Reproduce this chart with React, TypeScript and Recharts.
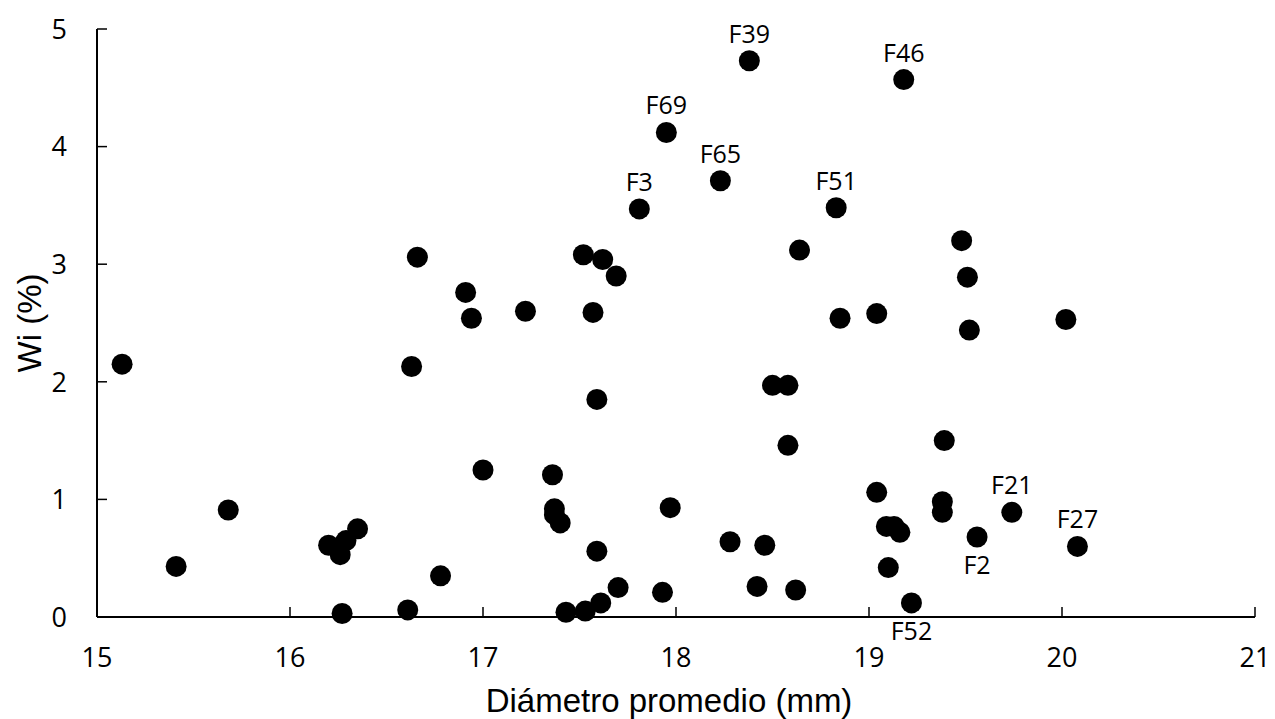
import React from 'react';
import { ScatterChart, Scatter, XAxis, YAxis } from 'recharts';

// Diámetro promedio (mm) vs Wi (%) per sample
const diameters = [
  15.13, 15.41, 15.68, 16.2, 16.26, 16.27, 16.29, 16.35, 16.61, 16.63, 16.66, 16.78,
  16.91, 16.94, 17.0, 17.22, 17.36, 17.37, 17.37, 17.4, 17.43, 17.52, 17.53, 17.57,
  17.59, 17.59, 17.61, 17.62, 17.69, 17.7, 17.81, 17.93, 17.95, 17.97, 18.23, 18.28,
  18.38, 18.42, 18.46, 18.5, 18.58, 18.58, 18.62, 18.64, 18.83, 18.85, 19.04, 19.04,
  19.09, 19.1, 19.13, 19.16, 19.18, 19.22, 19.38, 19.38, 19.39, 19.48, 19.51, 19.52,
  19.56, 19.74, 20.02, 20.08,
];
const wiValues = [
  2.15, 0.43, 0.91, 0.61, 0.53, 0.03, 0.65, 0.75, 0.06, 2.13, 3.06, 0.35,
  2.76, 2.54, 1.25, 2.6, 1.21, 0.92, 0.87, 0.8, 0.04, 3.08, 0.05, 2.59,
  1.85, 0.56, 0.12, 3.04, 2.9, 0.25, 3.47, 0.21, 4.12, 0.93, 3.71, 0.64,
  4.73, 0.26, 0.61, 1.97, 1.97, 1.46, 0.23, 3.12, 3.48, 2.54, 2.58, 1.06,
  0.77, 0.42, 0.77, 0.72, 4.57, 0.12, 0.98, 0.89, 1.5, 3.2, 2.89, 2.44,
  0.68, 0.89, 2.53, 0.6,
];
// point names shown on the chart ('' = unlabelled)
const pointNames = [
  '', '', '', '', '', '', '', '', '', '', '', '',
  '', '', '', '', '', '', '', '', '', '', '', '',
  '', '', '', '', '', '', 'F3', '', 'F69', '', 'F65', '',
  'F39', '', '', '', '', '', '', '', 'F51', '', '', '',
  '', '', '', '', 'F46', 'F52', '', '', '', '', '', '',
  'F2', 'F21', '', 'F27',
];
const namesBelow = ['F2', 'F52'];

const xTicks = [15, 16, 17, 18, 19, 20, 21];
const yTicks = [0, 1, 2, 3, 4, 5];

const data = diameters.map((x, i) => ({ x, y: wiValues[i], name: pointNames[i] }));

const FONT = 'Open Sans';

const renderXTick = (props: any) => {
  const { x, y, payload } = props;
  return (
    <text x={x} y={y} dy="0.72em" textAnchor="middle" fontSize={27} fontFamily={FONT} fill="#000">
      {payload.value}
    </text>
  );
};

const renderYTick = (props: any) => {
  const { x, y, payload } = props;
  return (
    <text x={x} y={y} dy="0.36em" textAnchor="end" fontSize={27} fontFamily={FONT} fill="#000">
      {payload.value}
    </text>
  );
};

const renderPoint = (props: any) => {
  const { cx, cy, payload } = props;
  const name = payload?.name;
  const below = namesBelow.includes(name);
  return (
    <g>
      <circle cx={cx} cy={cy} r={10.5} fill="#000" />
      {name ? (
        <text
          x={cx}
          y={below ? cy + 37 : cy - 18}
          textAnchor="middle"
          fontSize={25}
          fontFamily={FONT}
          fill="#000"
        >
          {name}
        </text>
      ) : null}
    </g>
  );
};

const renderXTitle = (props: any) => {
  const vb = props.viewBox || { x: 97, y: 617, width: 1158, height: 60 };
  return (
    <text
      x={vb.x + vb.width / 2 - 7}
      y={vb.y + vb.height + 35}
      textAnchor="middle"
      fontSize={33}
      fontFamily="Liberation Sans"
      fill="#000"
    >
      Diámetro promedio (mm)
    </text>
  );
};

const renderYTitle = (props: any) => {
  const vb = props.viewBox || { x: 37, y: 29, width: 60, height: 588 };
  const tx = vb.x + 4;
  const ty = vb.y + vb.height / 2;
  return (
    <text
      x={tx}
      y={ty}
      transform={`rotate(-90 ${tx} ${ty})`}
      textAnchor="middle"
      fontSize={33}
      fontFamily="Liberation Sans"
      fill="#000"
    >
      Wi (%)
    </text>
  );
};

export default function App() {
  return (
    <div style={{ position: 'absolute', left: 0, top: 0, width: 1275, height: 719, background: '#fff' }}>
      <ScatterChart width={1275} height={719} margin={{ top: 29, right: 20, bottom: 42, left: 37 }}>
        <XAxis
          type="number"
          dataKey="x"
          domain={[15, 21]}
          ticks={xTicks}
          height={60}
          tickSize={-10}
          tickMargin={41}
          tick={renderXTick}
          axisLine={{ stroke: '#000', strokeWidth: 2 }}
          tickLine={{ stroke: '#000', strokeWidth: 1.5 }}
          label={{ content: renderXTitle }}
        />
        <YAxis
          type="number"
          dataKey="y"
          domain={[0, 5]}
          ticks={yTicks}
          width={60}
          tickSize={-10}
          tickMargin={40}
          tick={renderYTick}
          axisLine={{ stroke: '#000', strokeWidth: 2 }}
          tickLine={{ stroke: '#000', strokeWidth: 1.5 }}
          label={{ content: renderYTitle }}
        />
        <Scatter data={data} shape={renderPoint} isAnimationActive={false} />
      </ScatterChart>
    </div>
  );
}
